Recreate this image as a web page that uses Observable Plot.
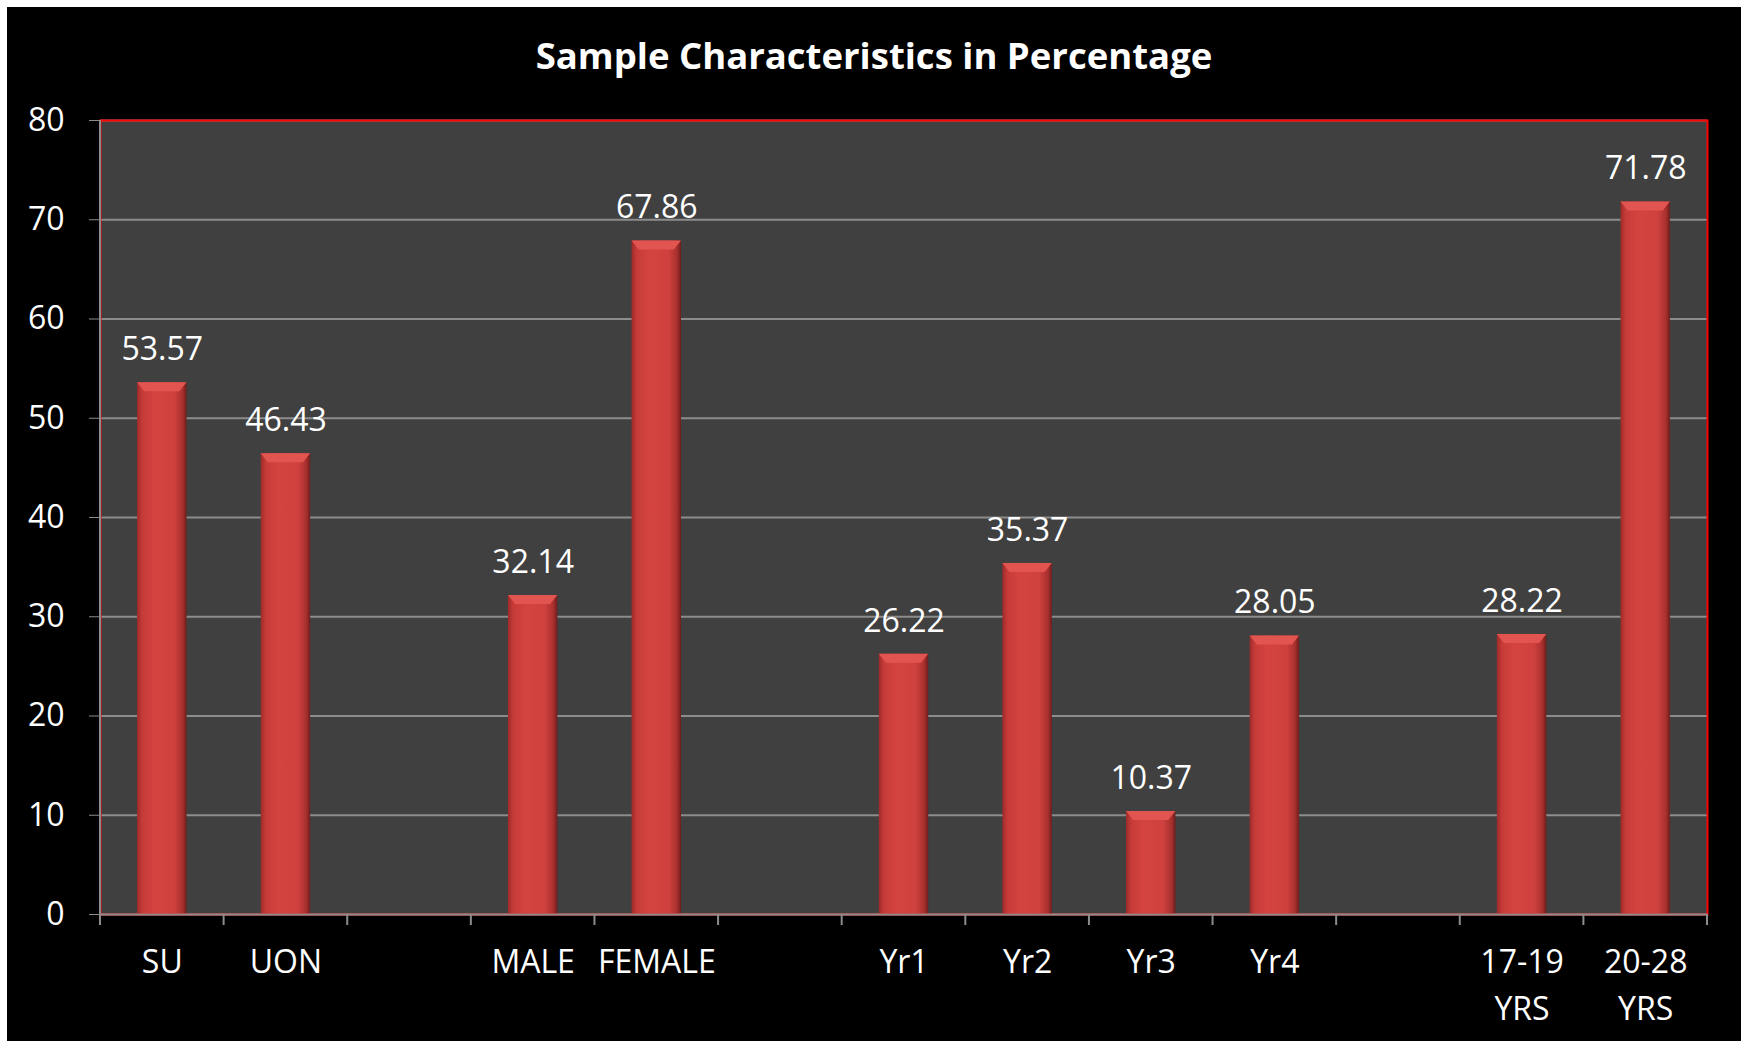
<!DOCTYPE html>
<html>
<head>
<meta charset="utf-8">
<script src="https://cdn.jsdelivr.net/npm/d3@7"></script>
<script src="https://cdn.jsdelivr.net/npm/@observablehq/plot@0.6"></script>
<style>
  html, body { margin: 0; padding: 0; background: #ffffff; }
  #wrap { position: absolute; left: 7px; top: 7px; width: 1734px; height: 1034px; background: #000; overflow: hidden; }
  #title { height: 90px; line-height: 96px; text-align: center; color: #fff;
           font-family: "Open Sans", sans-serif; font-weight: 700; font-size: 36.5px; }
  svg { display: block; }
</style>
</head>
<body>
<div id="wrap">
  <div id="title">Sample Characteristics in Percentage</div>
  <div id="chart"></div>
</div>
<script>
const categories = ["SU", "UON", "gap1", "MALE", "FEMALE", "gap2", "Yr1", "Yr2", "Yr3", "Yr4", "gap3", "17-19 YRS", "20-28 YRS"];
const values = [53.57, 46.43, null, 32.14, 67.86, null, 26.22, 35.37, 10.37, 28.05, null, 28.22, 71.78];
const yTicks = [0, 10, 20, 30, 40, 50, 60, 70, 80];

const rows = categories.map((c, i) => ({cat: c, value: values[i]})).filter(d => d.value != null);
const labelFor = c => c.startsWith("gap") ? "" : c.replace(" YRS", "\nYRS");

const chart = Plot.plot({
  width: 1734,
  height: 944,
  marginTop: 23,
  marginBottom: 127,
  marginLeft: 93,
  marginRight: 34,
  style: {background: "transparent", color: "white", fontFamily: "Open Sans, sans-serif", fontSize: "32px"},
  x: {domain: categories, paddingInner: 0.6, paddingOuter: 0.3, round: false},
  y: {domain: [0, 80]},
  marks: [
    Plot.frame({fill: "#404040", stroke: null}),
    Plot.gridY(yTicks, {stroke: "#8c8c8c", strokeOpacity: 1, strokeWidth: 2}),
    Plot.barY(rows, {x: "cat", y: "value", fill: "url(#barGrad)"}),
    Plot.text(rows, {x: "cat", y: "value", text: d => d.value.toFixed(2), dy: -33, fill: "white", fontSize: 32}),
    Plot.frame({stroke: "#ff0000", strokeWidth: 2}),
    Plot.ruleY([0], {stroke: "#8c8c8c", strokeWidth: 2}),
    Plot.axisY({ticks: yTicks, tickSize: 11, tickPadding: 25, stroke: "#8c8c8c", fill: "white", fontSize: 32, label: null}),
    Plot.axisX({tickSize: 0, tickPadding: 25, tickFormat: labelFor, fill: "white", fontSize: 32, lineHeight: 1.47, label: null})
  ]
});

document.getElementById("chart").appendChild(chart);

// decorations derived from the plot's own scales and rendered bars
const svg = d3.select(chart);
const defs = svg.insert("defs", ":first-child");
const g = defs.append("linearGradient").attr("id", "barGrad").attr("x1", "0").attr("x2", "1").attr("y1", "0").attr("y2", "0");
[["0%", "#9c2b29"], ["10%", "#c53b38"], ["35%", "#d44340"], ["75%", "#cf413e"], ["92%", "#a8302e"], ["100%", "#6e1d1c"]]
  .forEach(([o, c]) => g.append("stop").attr("offset", o).attr("stop-color", c));

const xs = chart.scale("x");
const ys = chart.scale("y");
const x0 = xs.range[0], x1 = xs.range[1];
const step = (x1 - x0) / categories.length;
const yBase = ys.apply(0), yTop = ys.apply(80);
const deco = svg.append("g");
// left axis line
deco.append("line").attr("x1", x0).attr("x2", x0).attr("y1", yTop).attr("y2", yBase)
  .attr("stroke", "#8c8c8c").attr("stroke-width", 2);
// x tick marks at category boundaries
for (let i = 0; i <= categories.length; i++) {
  const x = x0 + i * step;
  deco.append("line").attr("x1", x).attr("x2", x).attr("y1", yBase).attr("y2", yBase + 11)
    .attr("stroke", "#8c8c8c").attr("stroke-width", 2);
}
// bevel on the top of each bar
svg.selectAll("g[aria-label=bar] rect").each(function() {
  const r = d3.select(this);
  const x = +r.attr("x"), y = +r.attr("y"), w = +r.attr("width");
  const b = 9;
  d3.select(this.parentNode).append("polygon")
    .attr("points", `${x},${y} ${x + w},${y} ${x + w - b * 0.8},${y + b} ${x + b * 0.8},${y + b}`)
    .attr("fill", "#e2544f");
});
</script>
</body>
</html>
